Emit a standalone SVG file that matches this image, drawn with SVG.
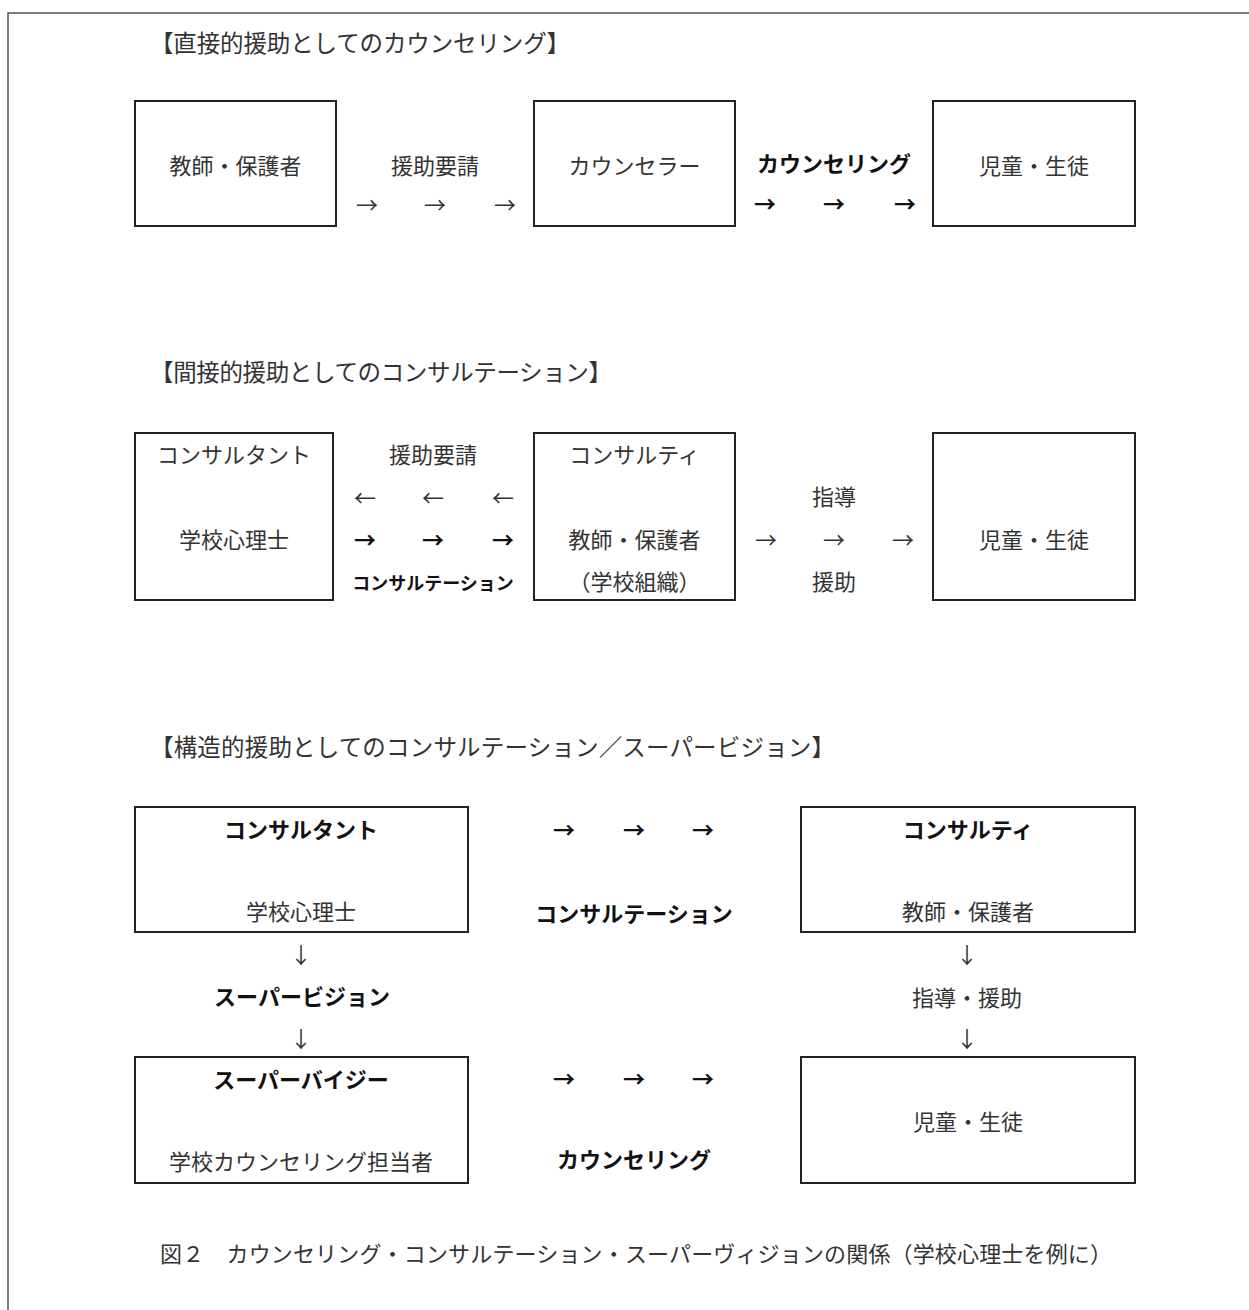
<svg xmlns="http://www.w3.org/2000/svg" width="1249" height="1310" viewBox="0 0 1249 1310">
<style>
text{font-family:"Noto Sans CJK JP","Noto Sans",sans-serif;font-size:22px;fill:#333;dominant-baseline:central;text-anchor:middle}
.b{font-weight:bold;fill:#111}
.t{text-anchor:start;font-size:23.5px}
.s{font-size:18px}
.box{fill:#fff;stroke:#222;stroke-width:2}
.frame{fill:none;stroke:#555;stroke-width:1.5}
</style>
<rect width="1249" height="1310" fill="#fff"/>
<path class="frame" d="M8,1310 V13 H1249"/>
<g id="titles">
<text class="t" x="150" y="42" textLength="420" lengthAdjust="spacing">【直接的援助としてのカウンセリング】</text>
<text class="t" x="150" y="371" textLength="462" lengthAdjust="spacing">【間接的援助としてのコンサルテーション】</text>
<text class="t" x="150" y="746" textLength="685" lengthAdjust="spacing">【構造的援助としてのコンサルテーション／スーパービジョン】</text>
</g>
<g id="s1-teacher"><rect class="box" x="135" y="101" width="201" height="125"/><text x="235.5" y="164">教師・保護者</text></g>
<g id="s1-counselor"><rect class="box" x="534" y="101" width="201" height="125"/><text x="634.5" y="164">カウンセラー</text></g>
<g id="s1-student"><rect class="box" x="933" y="101" width="202" height="125"/><text x="1034" y="164">児童・生徒</text></g>
<g id="s2-consultant"><rect class="box" x="135" y="433" width="198" height="167"/><text x="234" y="453">コンサルタント</text><text x="234" y="538">学校心理士</text></g>
<g id="s2-consultee"><rect class="box" x="534" y="433" width="201" height="167"/><text x="634.5" y="453">コンサルティ</text><text x="634.5" y="538">教師・保護者</text><text x="634.5" y="580">（学校組織）</text></g>
<g id="s2-student"><rect class="box" x="933" y="433" width="202" height="167"/><text x="1034" y="538">児童・生徒</text></g>
<g id="s3-consultant"><rect class="box" x="135" y="807" width="333" height="125"/><text class="b" x="301" y="828">コンサルタント</text><text x="301" y="910">学校心理士</text></g>
<g id="s3-consultee"><rect class="box" x="801" y="807" width="334" height="125"/><text class="b" x="968" y="828">コンサルティ</text><text x="968" y="910">教師・保護者</text></g>
<g id="s3-supervisee"><rect class="box" x="135" y="1057" width="333" height="126"/><text class="b" x="301" y="1078">スーパーバイジー</text><text x="301" y="1160">学校カウンセリング担当者</text></g>
<g id="s3-student"><rect class="box" x="801" y="1057" width="334" height="126"/><text x="968" y="1120">児童・生徒</text></g>
<g id="connectors">
<text x="435" y="164">援助要請</text>
<text x="367" y="203">→</text><text x="435" y="203">→</text><text x="505" y="203">→</text>
<text class="b" x="834" y="162">カウンセリング</text>
<text class="b" x="765" y="202">→</text><text class="b" x="834" y="202">→</text><text class="b" x="905" y="202">→</text>
<text x="433" y="453">援助要請</text>
<text x="365" y="496">←</text><text x="433" y="496">←</text><text x="503" y="496">←</text>
<text class="b" x="365" y="538">→</text><text class="b" x="433" y="538">→</text><text class="b" x="503" y="538">→</text>
<text class="b s" x="433" y="582">コンサルテーション</text>
<text x="834" y="495">指導</text>
<text x="766" y="538">→</text><text x="834" y="538">→</text><text x="903" y="538">→</text>
<text x="834" y="580">援助</text>
<text class="b" x="564" y="828">→</text><text class="b" x="634" y="828">→</text><text class="b" x="703" y="828">→</text>
<text class="b" x="634" y="912">コンサルテーション</text>
<text x="301" y="953">↓</text>
<text class="b" x="302" y="995">スーパービジョン</text>
<text x="301" y="1037">↓</text>
<text x="967" y="953">↓</text>
<text x="967" y="996">指導・援助</text>
<text x="967" y="1037">↓</text>
<text class="b" x="564" y="1077">→</text><text class="b" x="634" y="1077">→</text><text class="b" x="703" y="1077">→</text>
<text class="b" x="634" y="1158">カウンセリング</text>
</g>
<g id="caption"><text style="text-anchor:start" x="160" y="1252" textLength="952" lengthAdjust="spacing">図２　カウンセリング・コンサルテーション・スーパーヴィジョンの関係（学校心理士を例に）</text></g>
</svg>
